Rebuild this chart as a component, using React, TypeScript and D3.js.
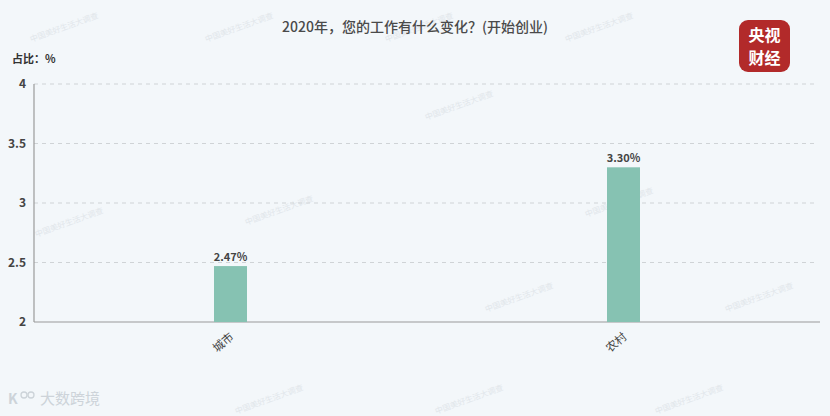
import React from "react";
import * as d3 from "d3";

const categories = ["城市", "农村"];
const values = [2.47, 3.3];
const valueLabels = ["2.47%", "3.30%"];
const yTicks = [2, 2.5, 3, 3.5, 4];
const title = "2020年，您的工作有什么变化？(开始创业)";
const unitLabel = "占比：%";
const watermarks = [
  { x: 65, y: 30 },
  { x: 240, y: 30 },
  { x: 420, y: 30 },
  { x: 600, y: 30 },
  { x: 70, y: 225 },
  { x: 620, y: 205 },
  { x: 460, y: 108 },
  { x: 280, y: 213 },
  { x: 520, y: 300 },
  { x: 760, y: 300 },
  { x: 270, y: 402 },
  { x: 470, y: 402 },
  { x: 690, y: 402 },
];

const W = 830;
const H = 416;
const left = 34;
const right = 820;
const top = 84;
const bottom = 322;

export default function App() {
  const x = d3.scaleBand<string>().domain(categories).range([left, right]).padding(0);
  const y = d3.scaleLinear().domain([2, 4]).range([bottom, top]);
  const barW = 33;
  const font = "'Noto Sans CJK SC', 'Noto Sans', sans-serif";
  return (
    <svg
      width={W}
      height={H}
      style={{ position: "absolute", left: 0, top: 0, display: "block" }}
      fontFamily={font}
    >
      <rect x={0} y={0} width={W} height={H} fill="#f3f7fa" />
      {watermarks.map((w, i) => (
        <text
          key={i}
          x={w.x}
          y={w.y}
          fontSize={8}
          fill="#e1e6ea"
          textAnchor="middle"
          transform={`rotate(-20 ${w.x} ${w.y})`}
        >
          中国美好生活大调查
        </text>
      ))}
      <text x={415} y={32} textAnchor="middle" fontSize={14} fontWeight={500} fill="#4a4a4a">
        {title}
      </text>
      <text x={12} y={63} fontSize={11} fill="#333" fontWeight="bold">
        {unitLabel}
      </text>
      {yTicks.map((t) => (
        <g key={t}>
          {t !== 2 && (
            <line
              x1={left}
              x2={right - 5}
              y1={y(t)}
              y2={y(t)}
              stroke="#cfd3d6"
              strokeDasharray="4,4"
              strokeWidth={1}
            />
          )}
          <text
            x={26}
            y={y(t)}
            dy="0.35em"
            textAnchor="end"
            fontSize={12}
            fontWeight="bold"
            fill="#444"
          >
            {t}
          </text>
        </g>
      ))}
      <line x1={left} x2={left} y1={top} y2={bottom} stroke="#9a9a9a" strokeWidth={1.2} />
      <line x1={left} x2={right} y1={bottom} y2={bottom} stroke="#9a9a9a" strokeWidth={1.2} />
      {categories.map((c, i) => {
        const cx = (x(c) as number) + x.bandwidth() / 2;
        return (
          <g key={c}>
            <rect
              x={cx - barW / 2}
              y={y(values[i])}
              width={barW}
              height={bottom - y(values[i])}
              fill="#86c2b2"
            />
            <text
              x={cx}
              y={y(values[i]) - 5}
              textAnchor="middle"
              fontSize={11}
              fontWeight="bold"
              fill="#444"
            >
              {valueLabels[i]}
            </text>
            <text
              x={cx + 4}
              y={bottom + 16}
              textAnchor="end"
              fontSize={11.5}
              fill="#444"
              transform={`rotate(-40 ${cx + 4} ${bottom + 16})`}
            >
              {c}
            </text>
          </g>
        );
      })}
      <rect x={739} y={20} width={51} height={52} rx={9} fill="#b22a2a" />
      <text x={764.5} y={41} textAnchor="middle" fontSize={16} fontWeight="bold" fill="#fff">
        央视
      </text>
      <text x={764.5} y={64} textAnchor="middle" fontSize={16} fontWeight="bold" fill="#fff">
        财经
      </text>
      <g opacity={0.9}>
        <text x={8} y={404} fontSize={14} fill="#c9d0d6" fontWeight="bold">
          K
        </text>
        <circle cx={24} cy={395} r={3} fill="none" stroke="#c9d0d6" strokeWidth={1.3} />
        <circle cx={31} cy={395} r={3} fill="none" stroke="#c9d0d6" strokeWidth={1.3} />
        <text x={40} y={404} fontSize={15} fill="#c9d0d6">
          大数跨境
        </text>
      </g>
    </svg>
  );
}
